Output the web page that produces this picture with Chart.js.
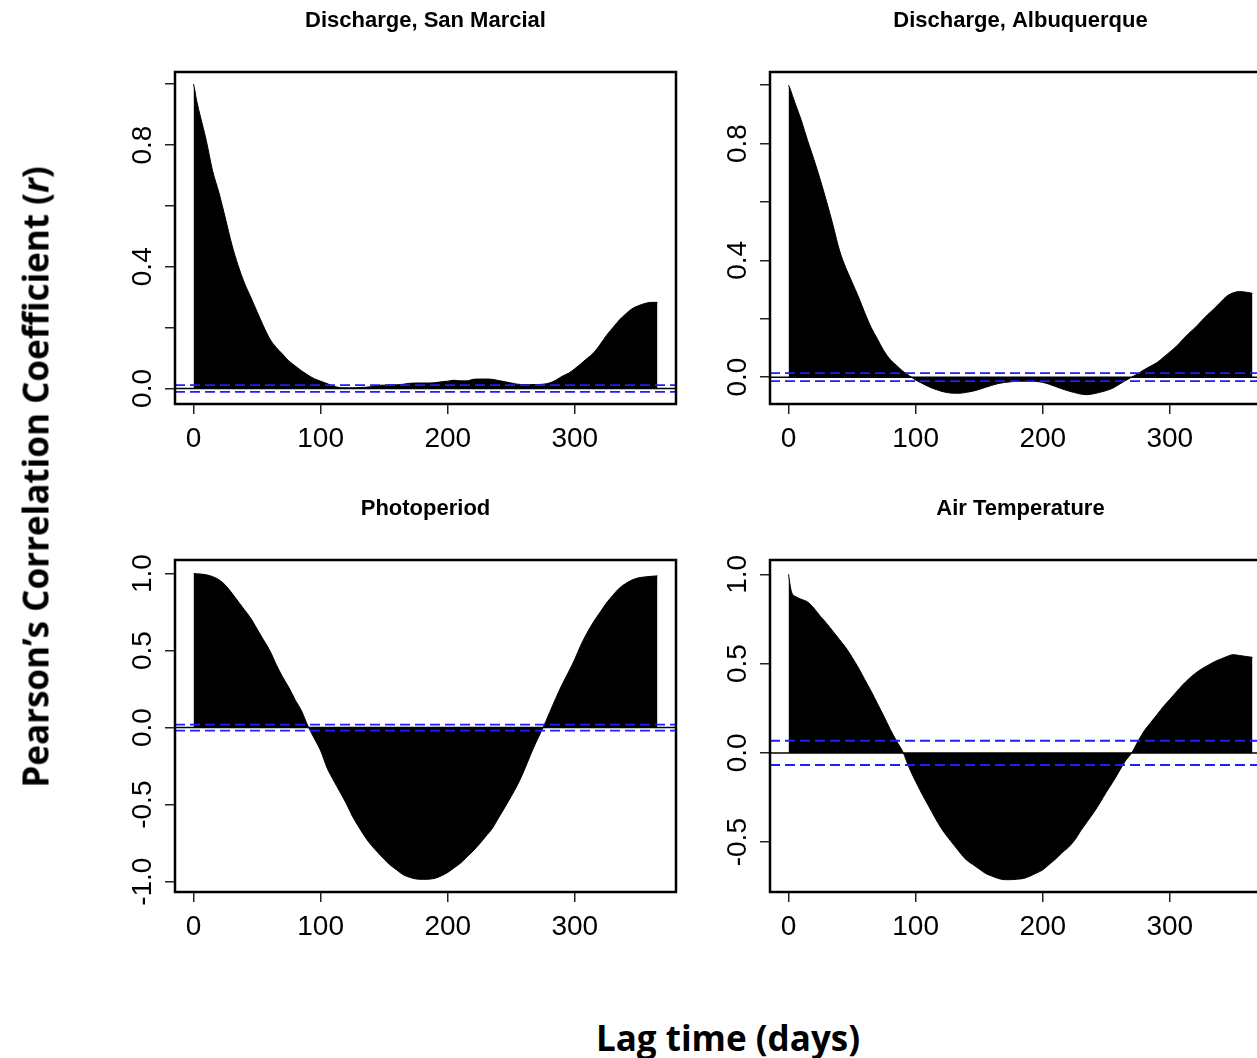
<!DOCTYPE html>
<html><head><meta charset="utf-8">
<script src="https://cdn.jsdelivr.net/npm/chart.js@4.4.1/dist/chart.umd.min.js"></script>
<style>
html,body{margin:0;padding:0;width:1257px;height:1058px;overflow:hidden;background:#fff;}
.panel{position:absolute;}
#ytitle{position:absolute;left:35px;top:477px;transform:translate(-50%,-50%) rotate(-90deg);font-family:'Open Sans',sans-serif;font-weight:bold;font-size:35px;white-space:nowrap;color:#000;}
#xtitle{position:absolute;left:728px;top:1037px;transform:translate(-50%,-50%);font-family:'Open Sans',sans-serif;font-weight:bold;font-size:35px;white-space:nowrap;color:#000;}
</style></head><body>
<div class="panel" style="left:0px;top:0px"><canvas id="c1" width="720" height="485"></canvas></div>
<div class="panel" style="left:595px;top:0px"><canvas id="c2" width="720" height="485"></canvas></div>
<div class="panel" style="left:0px;top:488px"><canvas id="c3" width="720" height="485"></canvas></div>
<div class="panel" style="left:595px;top:488px"><canvas id="c4" width="720" height="485"></canvas></div>
<div id="ytitle">Pearson’s Correlation Coefficient (<i>r</i>)</div>
<div id="xtitle">Lag time (days)</div>
<script>
// ---- data (lag in days, ACF value) ----
const lagDays = [0,1,2,3,5,10,15,20,25,30,35,40,45,50,
  55,60,65,70,75,80,85,90,95,100,
  105,110,115,120,125,130,135,140,145,150,
  155,160,165,170,175,180,185,190,195,200,
  205,210,215,220,225,230,235,240,245,250,
  255,260,265,270,275,280,285,290,295,300,
  305,310,315,320,325,330,335,340,345,350,
  355,360,365];
const sanMarcial = [1.00,0.98,0.955,0.935,0.90,0.815,0.715,0.643,0.56,0.475,0.405,0.347,0.30,0.252,
  0.205,0.163,0.135,0.113,0.09,0.074,0.058,0.044,0.032,0.024,
  0.016,0.008,0.003,0.002,0.002,0.003,0.004,0.006,0.01,0.011,
  0.012,0.012,0.014,0.017,0.018,0.018,0.018,0.019,0.022,0.024,
  0.027,0.025,0.025,0.03,0.031,0.031,0.03,0.026,0.022,0.018,
  0.014,0.013,0.013,0.013,0.014,0.018,0.027,0.04,0.05,0.065,
  0.082,0.1,0.118,0.145,0.175,0.2,0.225,0.245,0.262,0.272,
  0.279,0.283,0.283];
const albuquerque = [1.0,0.99,0.978,0.965,0.94,0.88,0.81,0.745,0.675,0.60,0.52,0.435,0.375,0.325,
  0.275,0.22,0.17,0.13,0.09,0.06,0.04,0.02,0.005,-0.01,
  -0.021,-0.032,-0.041,-0.048,-0.053,-0.055,-0.055,-0.052,-0.048,-0.042,
  -0.035,-0.028,-0.022,-0.018,-0.016,-0.014,-0.014,-0.014,-0.015,-0.018,
  -0.024,-0.032,-0.04,-0.047,-0.053,-0.058,-0.06,-0.057,-0.052,-0.046,
  -0.038,-0.025,-0.012,0.0,0.012,0.026,0.038,0.05,0.068,0.086,
  0.105,0.128,0.15,0.17,0.193,0.215,0.235,0.257,0.278,0.289,
  0.293,0.291,0.287];
const photoperiod = [1.0,1.0,0.999,0.998,0.997,0.992,0.98,0.96,0.925,0.875,0.82,0.765,0.71,0.64,
  0.57,0.50,0.41,0.33,0.26,0.18,0.108,0.01,-0.07,-0.15,
  -0.26,-0.34,-0.415,-0.49,-0.575,-0.645,-0.71,-0.765,-0.81,-0.855,
  -0.894,-0.925,-0.955,-0.972,-0.982,-0.985,-0.984,-0.978,-0.962,-0.94,
  -0.91,-0.88,-0.84,-0.8,-0.755,-0.705,-0.655,-0.585,-0.517,-0.445,
  -0.37,-0.28,-0.18,-0.086,0.0,0.095,0.19,0.28,0.36,0.445,
  0.54,0.62,0.69,0.75,0.81,0.86,0.905,0.935,0.958,0.972,
  0.978,0.982,0.985];
const airTemperature = [1.0,0.95,0.91,0.89,0.877,0.86,0.845,0.81,0.765,0.725,0.68,0.635,0.59,0.535,
  0.476,0.41,0.345,0.275,0.205,0.132,0.066,0.005,-0.085,-0.16,
  -0.23,-0.295,-0.36,-0.42,-0.47,-0.515,-0.56,-0.6,-0.625,-0.65,
  -0.675,-0.69,-0.703,-0.71,-0.71,-0.707,-0.703,-0.69,-0.673,-0.655,
  -0.625,-0.595,-0.56,-0.53,-0.49,-0.435,-0.385,-0.335,-0.28,-0.22,
  -0.165,-0.105,-0.045,0.0,0.065,0.125,0.17,0.215,0.26,0.30,
  0.34,0.38,0.415,0.445,0.47,0.49,0.51,0.525,0.54,0.55,
  0.545,0.54,0.535];
const panelTitles = ['Discharge, San Marcial','Discharge, Albuquerque','Photoperiod','Air Temperature'];
const ciLimits = [0.011, 0.014, 0.019, 0.068];
const xTickValues = [0,100,200,300];
const xTickLabels = ['0','100','200','300'];
const yTickValuesDischarge = [0,0.2,0.4,0.6,0.8,1.0];
const yTickLabelsDischarge = ['0.0','','0.4','','0.8',''];
const yTickValuesPhoto = [-1,-0.5,0,0.5,1];
const yTickLabelsPhoto = ['-1.0','-0.5','0.0','0.5','1.0'];
const yTickValuesAir = [-0.5,0,0.5,1];
const yTickLabelsAir = ['-0.5','0.0','0.5','1.0'];

// ---- layout / style ----
const X_MIN = -14.6, X_MAX = 379.6;
const FONT_FAMILY = "'Liberation Sans', Arial, sans-serif";
const TICK_SIZE = 28;
const measureCtx = document.createElement('canvas').getContext('2d');
measureCtx.font = TICK_SIZE + 'px ' + FONT_FAMILY;

const boxPlugin = {
  id: 'box',
  afterDraw(chart) {
    const {ctx, chartArea: a} = chart;
    ctx.save();
    ctx.strokeStyle = '#000';
    ctx.lineWidth = 2.5;
    ctx.strokeRect(a.left, a.top, a.right - a.left, a.bottom - a.top);
    ctx.restore();
  }
};

function makePanel(id, title, values, ci, yMin, yMax, yTicks, yLabels) {
  const widest = Math.max(...yLabels.map(l => measureCtx.measureText(l).width));
  const yPad = 21.5 - widest / 2;
  const gridOpts = {display: true, drawOnChartArea: false, drawTicks: true, tickLength: 10, color: '#222', lineWidth: 1.5};
  const tickFont = {family: FONT_FAMILY, size: TICK_SIZE};
  const ciStyle = {borderColor: '#1e1eff', borderWidth: 1.8, borderDash: [10, 5], pointRadius: 0, fill: false};
  new Chart(document.getElementById(id), {
    type: 'line',
    data: {
      datasets: [
        Object.assign({data: [{x: X_MIN, y: ci}, {x: X_MAX, y: ci}]}, ciStyle),
        Object.assign({data: [{x: X_MIN, y: -ci}, {x: X_MAX, y: -ci}]}, ciStyle),
        {data: [{x: X_MIN, y: 0}, {x: X_MAX, y: 0}], borderColor: '#000', borderWidth: 1.5, pointRadius: 0, fill: false},
        {data: lagDays.map((d, i) => ({x: d, y: values[i]})), borderColor: '#000', backgroundColor: '#000', borderWidth: 1, pointRadius: 0, fill: 'origin', cubicInterpolationMode: 'monotone'}
      ]
    },
    options: {
      responsive: false, animation: false, devicePixelRatio: 1,
      layout: {padding: {left: 0, top: 0, right: 44, bottom: 0}},
      plugins: {
        legend: {display: false}, tooltip: {enabled: false},
        title: {display: true, text: title, fullSize: false, color: '#000',
          font: {family: FONT_FAMILY, size: 22, weight: 'bold', lineHeight: 1.2},
          padding: {top: 7.3, bottom: 38.3}}
      },
      scales: {
        x: {
          type: 'linear', min: X_MIN, max: X_MAX,
          afterBuildTicks: s => { s.ticks = xTickValues.map(v => ({value: v})); },
          afterFit: s => { s.height = 81; },
          grid: gridOpts, border: {display: false},
          ticks: {font: tickFont, color: '#000', padding: 8, maxRotation: 0, autoSkip: false,
            callback: (v, i) => xTickLabels[i]}
        },
        y: {
          type: 'linear', min: yMin, max: yMax,
          afterBuildTicks: s => { s.ticks = yTicks.map(v => ({value: v})); },
          afterFit: s => { s.width = 175; },
          grid: gridOpts, border: {display: false},
          ticks: {font: tickFont, color: '#000', padding: yPad, minRotation: 90, maxRotation: 90,
            crossAlign: 'center', autoSkip: false, callback: (v, i) => yLabels[i]}
        }
      }
    },
    plugins: [boxPlugin]
  });
}

makePanel('c1', panelTitles[0], sanMarcial, ciLimits[0], -0.051, 1.040, yTickValuesDischarge, yTickLabelsDischarge);
makePanel('c2', panelTitles[1], albuquerque, ciLimits[1], -0.092, 1.045, yTickValuesDischarge, yTickLabelsDischarge);
makePanel('c3', panelTitles[2], photoperiod, ciLimits[2], -1.067, 1.088, yTickValuesPhoto, yTickLabelsPhoto);
makePanel('c4', panelTitles[3], airTemperature, ciLimits[3], -0.779, 1.080, yTickValuesAir, yTickLabelsAir);
</script>
</body></html>
